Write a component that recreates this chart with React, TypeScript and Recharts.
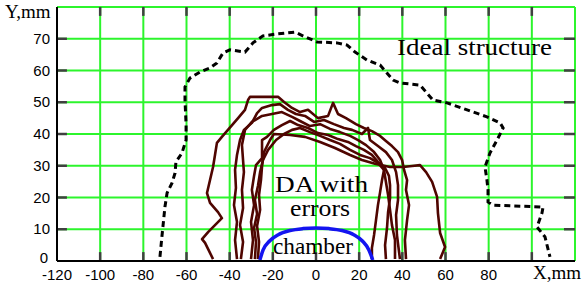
import { LineChart, Line, XAxis, YAxis, CartesianGrid } from 'recharts'

const xTicks = [-120, -100, -80, -60, -40, -20, 0, 20, 40, 60, 80, 100, 120]
const yTicks = [0, 10, 20, 30, 40, 50, 60, 70, 80]

// ideal structure (dashed)
const ideal: [number, number][] = [
  [-72.3, 1.3], [-71.4, 7.6], [-70, 17], [-69, 21.4], [-66.7, 24.6], [-65.3, 27.7],
  [-64.9, 31.2], [-62.1, 34], [-60.2, 38.1], [-60.2, 43], [-60.7, 50.7], [-60.7, 54.8],
  [-58.4, 57.6], [-53.8, 59.5], [-49.1, 60.8], [-45.9, 62.4], [-43.1, 65.5], [-39.9, 66.5],
  [-32.9, 65.8], [-29.2, 68.7], [-24.6, 70.9], [-18.1, 71.5], [-9.7, 72.1], [-5.1, 70.6],
  [0.5, 69], [9.7, 68.7], [14.4, 68], [18.1, 65.8], [23.6, 63.3], [29.7, 61.7], [35.7, 57],
  [38.9, 56.1], [48.2, 55.4], [54.2, 50.7], [60.7, 49.8], [70, 47.6], [79.2, 45.4],
  [85.3, 43.5], [86.7, 41.9], [83.9, 38.1], [80.6, 34], [78.3, 29.6], [79.2, 25.5],
  [79.7, 22.4], [79.7, 18.6], [82, 17.6], [105.2, 17], [104.7, 15.1], [102.4, 10.7],
  [106.1, 7.6], [108.4, 1.3],
]

// DA with errors, one array per seed
const da1: [number, number][] = [
  [-47.7, 0.6], [-51.4, 5.7], [-52.8, 6.9], [-50, 9.1], [-43.6, 13.5], [-45.4, 15.4],
  [-49.1, 18.3], [-50.5, 21.4], [-49.1, 25.5], [-47.7, 29.6], [-46.8, 33.4], [-45.9, 37.2],
  [-43.6, 39.1], [-38.9, 42.8], [-36.1, 45], [-32.9, 47.6], [-31.5, 50.7], [-30.6, 51.7],
  [-17.6, 51.7], [-14.8, 50.1], [-11.1, 48.2], [-7.4, 46.9], [-3.7, 47.6], [0.9, 45],
  [5.6, 45.7], [7.9, 49.8], [10.2, 46.3], [13.9, 45], [18.5, 43.1], [22.2, 41.9],
  [25.9, 40.9], [29.7, 39.4], [32.4, 37.8], [35.2, 36.2], [38, 34.3], [39.9, 31.8],
  [40.8, 28.7], [42.2, 25.5], [41.7, 22.4], [43.1, 17.6], [42.2, 12.9], [41.2, 6.6], [41.7, 0.6],
]
const da2: [number, number][] = [
  [-36.6, 0.6], [-37.5, 6.6], [-36.6, 12.3], [-38, 17.6], [-37.1, 23], [-37.5, 28.7],
  [-36.6, 33.4], [-35.2, 38.1], [-33.4, 41.3], [-29.7, 43.5], [-27.3, 46.6], [-25, 48.2],
  [-20.4, 49.1], [-16.7, 49.4], [-13, 47.6], [-9.3, 46.3], [-5.1, 45.7], [-0.9, 43.8],
  [3.7, 44.4], [8.3, 43.1], [13, 41.9], [16.7, 41.3], [21.3, 40], [24.1, 41.9], [25, 38.1],
  [28.7, 36.2], [32.4, 34.3], [35.2, 31.8], [37.1, 28], [38, 23.9], [38, 19.2], [37.1, 14.5],
  [37.5, 8.2], [38.9, 0.6],
]
const da3: [number, number][] = [
  [-34.8, 0.6], [-33.8, 6], [-35.2, 11.3], [-33.8, 16.7], [-34.3, 22.4], [-33.4, 28],
  [-33.8, 31.8], [-34.3, 36.5], [-32.9, 41.3], [-29.7, 43.8], [-25, 45.7], [-20.4, 46.3],
  [-15.8, 46.9], [-11.1, 45.4], [-7.4, 44.1], [-2.8, 42.5], [1.9, 43.1], [6.5, 41.6],
  [11.1, 40.6], [15.8, 39.4], [19.5, 38.1], [23.2, 36.5], [26.9, 34.3], [29.7, 31.8],
  [31.5, 28.7], [32.4, 24.9], [33.4, 20.8], [34.3, 16.1], [35.2, 11.3], [36.6, 6.6], [36.6, 0.6],
]
const da4: [number, number][] = [
  [-30.1, 0.6], [-29.2, 6.6], [-30.1, 12.3], [-28.7, 17.6], [-29.7, 22.4], [-28.7, 26.8],
  [-27.8, 30.2], [-25, 32.4], [-25, 38.1], [-22.7, 39.1], [-19.5, 41.3], [-15.8, 42.8],
  [-12, 44.1], [-8.3, 42.8], [-3.7, 41.9], [0.9, 40.3], [5.6, 39.7], [10.2, 38.4],
  [14.8, 37.5], [18.5, 36.2], [22.2, 35], [25.9, 33.4], [28.7, 31.2], [32, 29.3],
  [33.8, 26.8], [34.3, 23.9], [34.3, 19.8], [33.4, 15.4], [32.9, 10.4], [32, 5], [32.4, 0.6],
]
const da5: [number, number][] = [
  [-28.3, 0.6], [-27.8, 6], [-28.7, 10.4], [-27.3, 14.8], [-28.3, 19.2], [-26.9, 23.6],
  [-25.9, 28], [-24.6, 31.8], [-22.2, 35], [-18.5, 38.1], [-14.8, 40], [-11.1, 41.3],
  [-7.4, 41.9], [-2.8, 40.6], [1.9, 39.4], [6.5, 38.1], [11.1, 36.9], [15.8, 35],
  [20.4, 33.4], [25, 32.4], [28.7, 30.9], [31.5, 28.7], [30.6, 25.5], [29.7, 21.7],
  [28.7, 17.6], [27.8, 12.9], [26.9, 8.2], [25.9, 4.1], [25.9, 0.6],
]
const da6: [number, number][] = [
  [-26.9, 0.6], [-26.4, 6], [-27.3, 11], [-25.9, 16.1], [-26.4, 20.8], [-25.5, 25.5],
  [-25, 29.9], [-24.1, 34.3], [-21.3, 38.1], [-19.5, 40], [-12, 39.7], [-5.1, 39.1],
  [1.9, 37.5], [8.8, 35.6], [15.8, 33.4], [21.3, 31.8], [27.3, 30.6], [34.3, 29.6],
  [40.3, 29.6], [44.5, 29.9], [48.2, 30.2], [51, 28], [53.8, 24.9], [56.1, 20.2],
  [56.5, 15.1], [57.5, 8.8], [59.8, 4.4], [57.5, 0.6],
]

// vacuum chamber outline
const chamber: [number, number][] = [
  [-26, 0.3], [-24.5, 3.5], [-21.5, 6.3], [-17.5, 8.3], [-12, 9.6], [-6, 10.2], [0, 10.4],
  [6, 10.2], [12, 9.6], [17.5, 8.3], [21.5, 6.3], [24.5, 3.5], [26.3, 0.3],
]

const daCurves = [da1, da2, da3, da4, da5, da6]

const toPts = (a: [number, number][]) => a.map(([x, y]) => ({ x, y }))

const NUM = '"Liberation Sans", Arial, sans-serif'
const SERIF = '"Liberation Serif", "Times New Roman", serif'
const TICK = '#404040'

// inner tick marks on the frame, length in axis units (~9-10px)
const TX = 2.8
const TY = 4.6
const innerX = xTicks.slice(1, -1)
const innerY = yTicks.slice(1, -1)
const tickMarks = [
  ...innerX.map(v => [{ x: v, y: 0 }, { x: v, y: TX }]),
  ...innerX.map(v => [{ x: v, y: 80 }, { x: v, y: 80 - TX }]),
  ...innerY.map(v => [{ x: -120, y: v }, { x: -120 + TY, y: v }]),
  ...innerY.map(v => [{ x: 120, y: v }, { x: 120 - TY - 0.5, y: v }]),
]

function BottomTick({ x, y, payload }: any) {
  const v = payload.value
  if (v > 80) return null
  return (
    <text x={x} y={y + 18.5} textAnchor="middle" fontFamily={NUM} fontSize={15} fill="#000">
      {String(v)}
    </text>
  )
}

function LeftTick({ x, y, payload }: any) {
  const v = payload.value
  if (v >= 80) return null
  return (
    <text x={v === 0 ? x - 9 : x - 7} y={v === 0 ? y + 2 : y + 5} textAnchor="end" fontFamily={NUM} fontSize={15} fill="#000">
      {v}
    </text>
  )
}

export default function App() {
  return (
    <div style={{ position: 'absolute', left: 0, top: 0, width: 588, height: 288, background: '#fff' }}>
      <LineChart width={588} height={288} margin={{ top: 7, right: 13, bottom: 0, left: 0 }}>
        <CartesianGrid xAxisId="b" yAxisId="l" stroke="#2cf52c" strokeWidth={2} />
        <XAxis
          xAxisId="b" type="number" dataKey="x" domain={[-120, 120]} ticks={xTicks}
          height={27} tickSize={0} tickMargin={0} tickLine={false} tick={<BottomTick />}
          axisLine={{ stroke: '#000', strokeWidth: 2 }} allowDataOverflow interval={0}
        />
        <XAxis
          xAxisId="t" orientation="top" type="number" dataKey="x" domain={[-120, 120]}
          ticks={xTicks} height={0} tick={false} tickLine={false}
          axisLine={{ stroke: '#000', strokeWidth: 2 }} allowDataOverflow
        />
        <YAxis
          yAxisId="l" type="number" domain={[0, 80]} ticks={yTicks} width={57}
          tickSize={0} tickMargin={0} tickLine={false} tick={<LeftTick />}
          axisLine={{ stroke: '#000', strokeWidth: 2 }} allowDataOverflow interval={0}
        />
        <YAxis
          yAxisId="r" orientation="right" type="number" domain={[0, 80]}
          ticks={yTicks} width={0} tick={false} tickLine={false}
          axisLine={{ stroke: '#8a8a8a', strokeWidth: 2 }} allowDataOverflow
        />
        {tickMarks.map((seg, i) => (
          <Line
            key={'tm' + i} xAxisId="b" yAxisId="l" data={seg} dataKey="y" type="linear"
            stroke={TICK} strokeWidth={2.5} dot={false} isAnimationActive={false}
          />
        ))}
        {daCurves.map((c, i) => (
          <Line
            key={i} xAxisId="b" yAxisId="l" data={toPts(c)} dataKey="y" type="linear"
            stroke="#4f0500" strokeWidth={2.6} dot={false} isAnimationActive={false}
            strokeLinejoin="round"
          />
        ))}
        <Line
          xAxisId="b" yAxisId="l" data={toPts(ideal)} dataKey="y" type="linear"
          stroke="#000" strokeWidth={3} strokeDasharray="6 4" dot={false} isAnimationActive={false}
        />
        <Line
          xAxisId="b" yAxisId="l" data={toPts(chamber)} dataKey="y" type="monotone"
          stroke="#1414f0" strokeWidth={3.5} dot={false} isAnimationActive={false}
        />
      </LineChart>
      <svg width={588} height={288} style={{ position: 'absolute', left: 0, top: 0, pointerEvents: 'none' }}>
        <text x={5} y={18} fontFamily={SERIF} fontSize={19} fill="#000">Y,mm</text>
        <text x={533} y={279} fontFamily={SERIF} fontSize={19} fill="#000">X,mm</text>
        <text x={397} y={55} fontFamily={SERIF} fontSize={24} fill="#000" textLength={155} lengthAdjust="spacingAndGlyphs">Ideal structure</text>
        <text x={275} y={192} fontFamily={SERIF} fontSize={24} fill="#000" textLength={93} lengthAdjust="spacingAndGlyphs">DA with</text>
        <text x={290} y={216} fontFamily={SERIF} fontSize={24} fill="#000" textLength={60} lengthAdjust="spacingAndGlyphs">errors</text>
        <text x={273} y={254} fontFamily={SERIF} fontSize={23} fill="#000" textLength={80} lengthAdjust="spacingAndGlyphs">chamber</text>
      </svg>
    </div>
  )
}
